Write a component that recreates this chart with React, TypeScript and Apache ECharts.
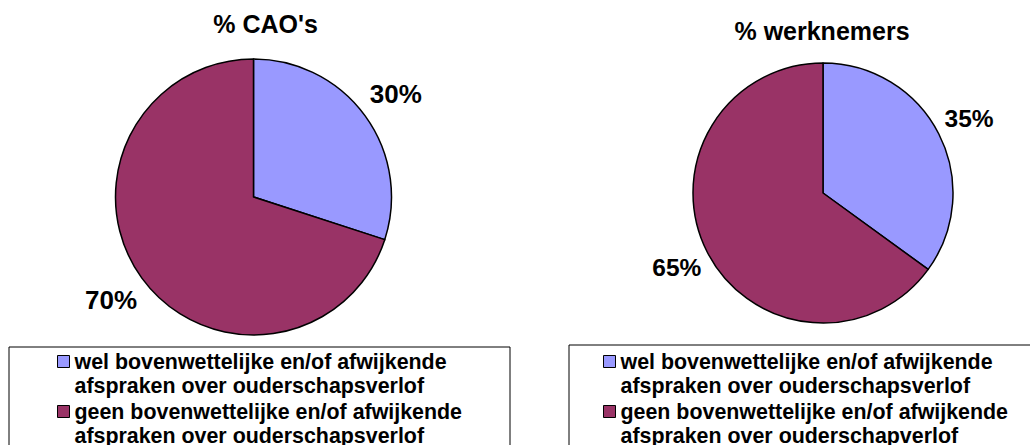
import React, { useEffect, useRef } from "react";
import * as echarts from "echarts";

const categoriesLeft = [
  "wel bovenwettelijke en/of afwijkende afspraken over ouderschapsverlof",
  "geen bovenwettelijke en/of afwijkende afspraken over ouderschapsverlof",
];
const categoriesRight = [
  "wel bovenwettelijke en/of afwijkende afspraken over ouderschapsverlof",
  "geen bovenwettelijke en/of afwijkende afspraken over ouderschapverlof",
];
const valuesLeft = [30, 70];
const valuesRight = [35, 65];
const titles = ["% CAO's", "% werknemers"];
const colors = ["#9999FF", "#993366"];

const FONT = "'Liberation Sans', Arial, sans-serif";

export default function App() {
  const ref = useRef<HTMLDivElement>(null);
  useEffect(() => {
    if (!ref.current) return;
    const chart = echarts.init(ref.current, null, { renderer: "svg" });
    const mk = (names: string[], vals: number[]) =>
      names.map((n, i) => ({ name: n, value: vals[i], itemStyle: { color: colors[i] } }));
    const mkPlain = (names: string[], vals: number[]) =>
      names.map((n, i) => ({ name: n, value: vals[i] }));
    const legendBase = {
      orient: "vertical",
      itemGap: 0,
      itemWidth: 12,
      itemHeight: 49,
      height: 200,
      icon: "path://M0,0M0,6h12v12h-12zM0,49",
      symbolKeepAspect: false,
      borderColor: "#000",
      borderWidth: 1,
      backgroundColor: "#fff",
      itemStyle: { borderColor: "#000", borderWidth: 1 },
      textStyle: {
        fontFamily: FONT,
        fontWeight: "bold",
        fontSize: 21.4,
        lineHeight: 24.5,
        color: "#000",
      },
      formatter: (name: string) => name.replace(" afspraken", "\nafspraken"),
      selectedMode: false,
    };
    const pieBase = {
      type: "pie",
      startAngle: 90,
      clockwise: true,
      silent: true,
      label: { show: false },
      labelLine: { show: false },
      emphasis: { disabled: true },
      itemStyle: { borderColor: "#000", borderWidth: 1.5 },
    };
    const helperBase = {
      type: "pie",
      startAngle: 90,
      clockwise: true,
      silent: true,
      emphasis: { disabled: true },
      itemStyle: { color: "rgba(0,0,0,0)", borderWidth: 0 },
      labelLine: { show: false },
    };
    chart.setOption({
      animation: false,
      title: [
        {
          text: titles[0],
          left: 265.5,
          top: 11.5,
          padding: 0,
          textAlign: "center",
          textStyle: { fontFamily: FONT, fontWeight: "bold", fontSize: 25, color: "#000" },
        },
        {
          text: titles[1],
          left: 822,
          top: 18.5,
          padding: 0,
          textAlign: "center",
          textStyle: { fontFamily: FONT, fontWeight: "bold", fontSize: 25, color: "#000" },
        },
      ],
      legend: [
        { ...legendBase, left: 9, top: 347, padding: [2, 48, 5, 48], data: categoriesLeft },
        { ...legendBase, left: 569, top: 345, padding: [4, 34, 5, 34], data: categoriesRight },
      ],
      series: [
        { ...pieBase, center: [253.5, 197], radius: 138, data: mk(categoriesLeft, valuesLeft) },
        { ...pieBase, center: [823, 193], radius: 130, data: mk(categoriesRight, valuesRight) },
        {
          ...helperBase,
          center: [253.5, 197],
          radius: [172, 174],
          label: {
            show: true,
            position: "inside",
            formatter: "{c}%",
            color: "#000",
            fontFamily: FONT,
            fontWeight: "bold",
            fontSize: 26,
          },
          data: mkPlain(categoriesLeft, valuesLeft),
        },
        {
          ...helperBase,
          center: [823, 193],
          radius: [160, 162],
          label: {
            show: true,
            position: "inside",
            formatter: "{c}%",
            color: "#000",
            fontFamily: FONT,
            fontWeight: "bold",
            fontSize: 24.5,
          },
          data: mkPlain(categoriesRight, valuesRight),
        },
      ],
    });
    return () => chart.dispose();
  }, []);
  return (
    <div
      ref={ref}
      style={{ position: "fixed", left: 0, top: 0, width: 1030, height: 445, background: "#fff" }}
    />
  );
}
